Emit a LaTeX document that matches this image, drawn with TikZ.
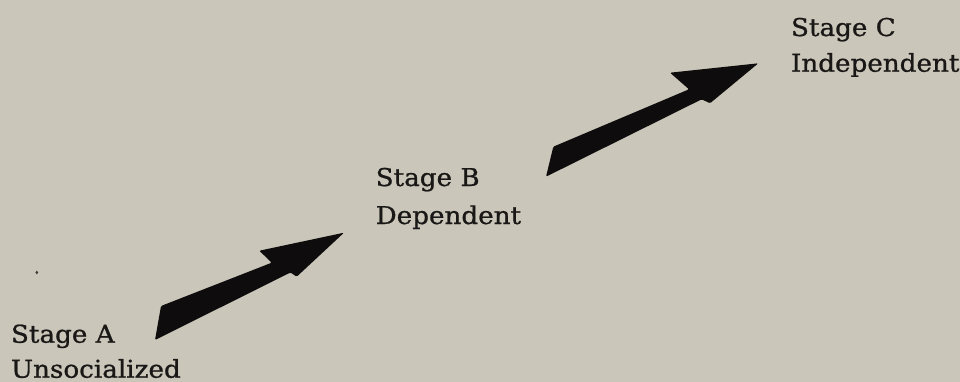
\documentclass[tikz,border=0pt]{standalone}
\usepackage{fontspec}
\setmainfont{DejaVu Serif}[FakeStretch=1.07, FakeBold=0.9]
\definecolor{paper}{RGB}{202,198,186}
\definecolor{ink}{RGB}{26,24,22}
\definecolor{arrowink}{RGB}{14,12,12}
\tikzset{
  label/.style={anchor=base west, inner sep=0pt, text=ink, font=\fontsize{24.5}{30}\selectfont},
  bigarrow/.style={fill=arrowink, rounded corners=1.2pt},
}
\begin{document}
\begin{tikzpicture}[x=1pt, y=-1pt]
  % paper
  \fill[paper] (0,0) rectangle (960,382);
  \useasboundingbox (0,0) rectangle (960,382);

  % stage labels
  \node[label] (stageA)  at (10.8,342.7) {Stage A};
  \node[label] (nameA)   at (10.8,377.7) {Unsocialized};
  \node[label] (stageB)  at (375.5,186)  {Stage B};
  \node[label] (nameB)   at (375.5,224)  {Dependent};
  \node[label] (stageC)  at (790.8,36)   {Stage C};
  \node[label] (nameC)   at (790.8,71.7) {Independent};

  % arrow from A to B: tapered shaft with a skewed head
  \fill[bigarrow] (161,306) -- (271.7,262.7) -- (259.3,250.7) -- (344,232.7)
    -- (296.7,276.7) -- (290.5,272.5) -- (155,340) -- cycle;

  % arrow from B to C
  \fill[bigarrow] (553.3,146.7) -- (689,89.3) -- (670,72.7) -- (758.3,63.3)
    -- (710,103.3) -- (701.7,99.3) -- (546,176.7) -- cycle;

  % small speck left of the first arrow
  \fill[ink!85] (36.8,272.5) ellipse (1.4pt and 1.9pt);
\end{tikzpicture}
\end{document}
